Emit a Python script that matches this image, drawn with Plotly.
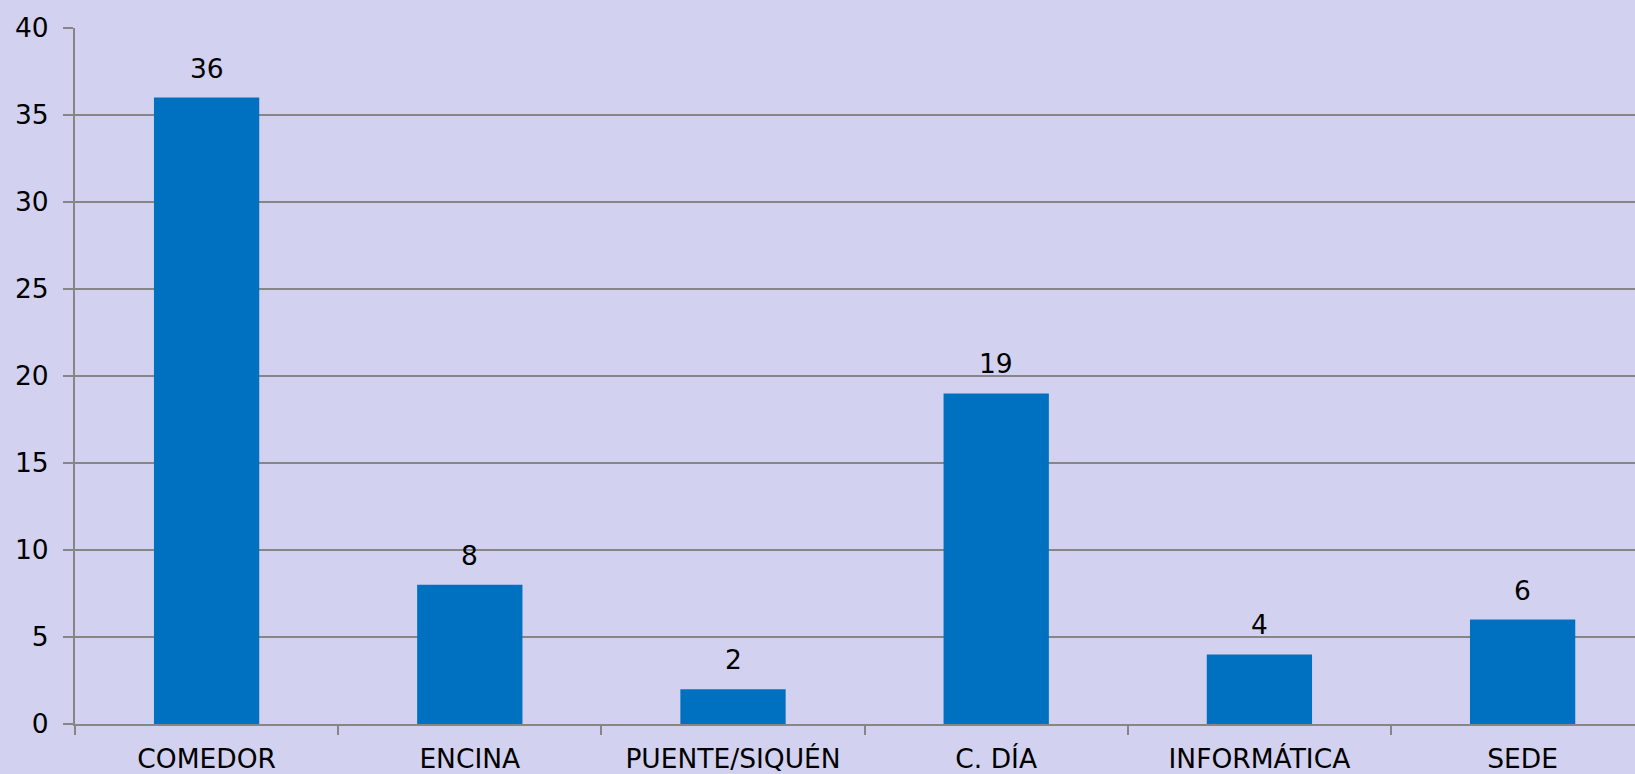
import plotly.graph_objects as go

categories = ["COMEDOR", "ENCINA", "PUENTE/SIQUÉN", "C. DÍA", "INFORMÁTICA", "SEDE"]
values = [36, 8, 2, 19, 4, 6]
y_ticks = [0, 5, 10, 15, 20, 25, 30, 35, 40]

BG = "#D2D2F0"
GRID = "#868686"
BAR = "#0070C0"
FONT = "DejaVu Sans"
FS = 26.5

fig = go.Figure()
fig.add_trace(go.Bar(
    x=categories, y=values, width=0.40,
    marker=dict(color=BAR, line=dict(width=0)),
    hoverinfo="x+y",
))

for c, v in zip(categories, values):
    fig.add_annotation(
        x=c, y=v, text=str(v), showarrow=False,
        yanchor="bottom", yshift=12,
        font=dict(family=FONT, size=FS, color="#000000"),
    )

fig.update_layout(
    width=1635, height=774,
    margin=dict(l=75, r=0, t=28, b=50, pad=0),
    paper_bgcolor=BG, plot_bgcolor=BG,
    showlegend=False,
    font=dict(family=FONT, size=FS, color="#000000"),
)

fig.update_xaxes(
    type="category",
    range=[-0.5, 5.427],
    showline=True, linecolor=GRID, linewidth=2,
    ticks="outside", tickson="boundaries", ticklen=9, tickwidth=1.5, tickcolor=GRID,
    showgrid=False, zeroline=False,
    tickfont=dict(family=FONT, size=FS, color="#000000"),
    ticklabelstandoff=10,
)

fig.update_yaxes(
    range=[0, 40],
    tickvals=y_ticks,
    showline=True, linecolor=GRID, linewidth=2,
    ticks="outside", ticklen=10, tickwidth=1.5, tickcolor=GRID,
    showgrid=True, gridcolor=GRID, gridwidth=1.5,
    zeroline=False,
    tickfont=dict(family=FONT, size=FS, color="#000000"),
    ticklabelstandoff=9,
)

fig.write_html(
    "out.html",
    config={"displayModeBar": False},
    post_script="document.body.style.margin='0';document.body.style.overflow='hidden';",
)
